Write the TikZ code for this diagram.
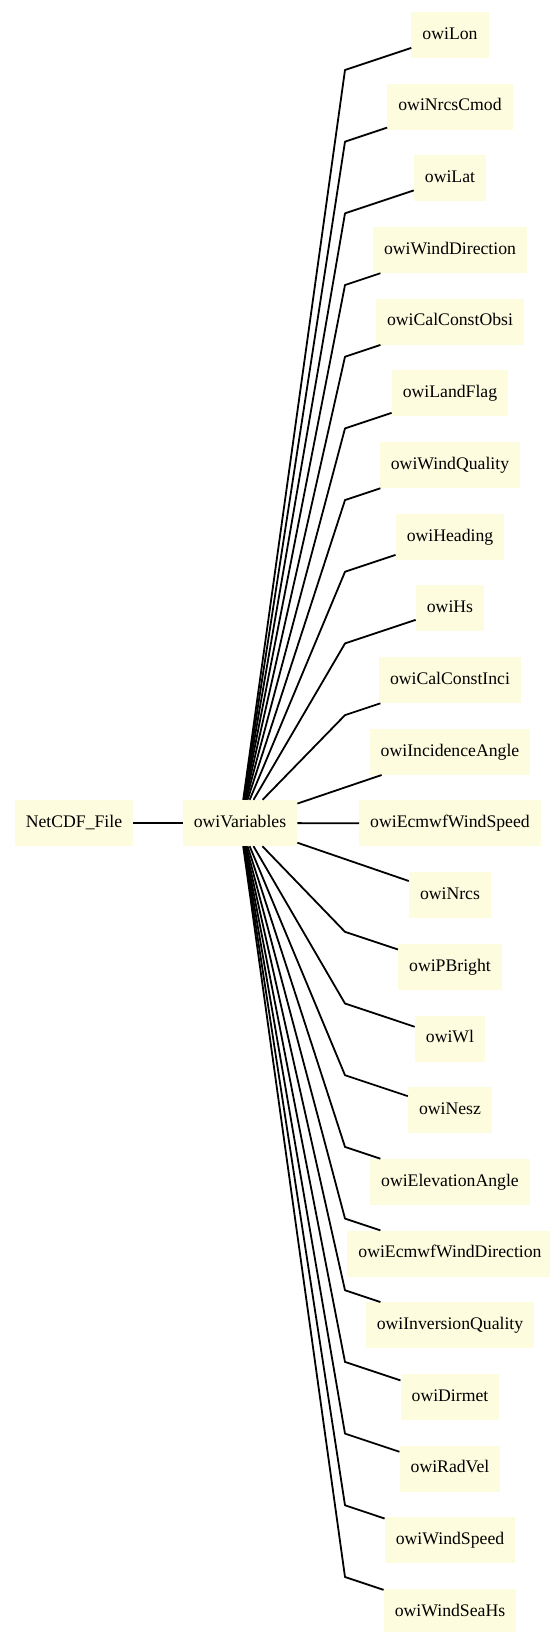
\documentclass[tikz,border=0pt]{standalone}
\usepackage{fontspec}
\setmainfont{Liberation Serif}
\definecolor{boxyellow}{RGB}{253,252,222}
\begin{document}
\begin{tikzpicture}[x=1pt,y=-1pt,
  box/.style={fill=boxyellow, draw=none, minimum height=46pt, inner xsep=11pt,
    text height=12pt, text depth=3.5pt, font=\fontsize{17.7}{20}\selectfont},
  edge/.style={draw=black, line width=1.8pt, line join=round}]
\useasboundingbox (0,0) rectangle (549,1632);
\fill[white] (0,0) rectangle (549,1632);
\node[box] (NetCDF) at (74,823) {NetCDF\_File};
\node[box] (owiVariables) at (240,823) {owiVariables};
\draw[edge] (NetCDF) -- (owiVariables);
\foreach \n [count=\i from 0] in {owiLon,owiNrcsCmod,owiLat,owiWindDirection,owiCalConstObsi,owiLandFlag,owiWindQuality,owiHeading,owiHs,owiCalConstInci,owiIncidenceAngle,owiEcmwfWindSpeed,owiNrcs,owiPBright,owiWl,owiNesz,owiElevationAngle,owiEcmwfWindDirection,owiInversionQuality,owiDirmet,owiRadVel,owiWindSpeed,owiWindSeaHs}{
  \pgfmathsetmacro\yy{35+\i*71.68}
  \node[box] (\n) at (450,\yy) {\n};
  \ifnum\i<10
    \pgfmathsetmacro\by{\yy+35}
    \coordinate (b\i) at (345,\by);
    \draw[edge] (owiVariables) -- (b\i) -- (\n);
  \else
    \ifnum\i>12
      \pgfmathsetmacro\by{\yy-35}
      \coordinate (b\i) at (345,\by);
      \draw[edge] (owiVariables) -- (b\i) -- (\n);
    \else
      \draw[edge] (owiVariables) -- (\n);
    \fi
  \fi
}
\end{tikzpicture}
\end{document}
